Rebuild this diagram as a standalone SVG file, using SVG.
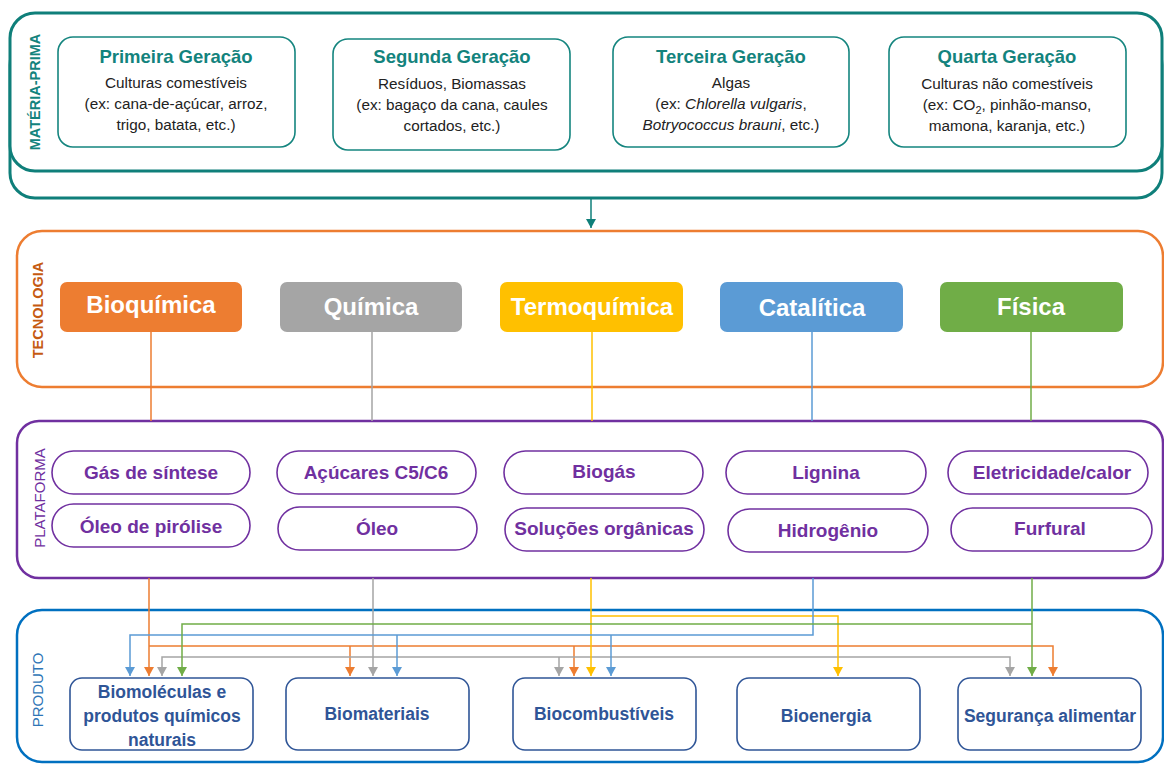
<svg xmlns="http://www.w3.org/2000/svg" width="1164" height="764" viewBox="0 0 1164 764">
<style>
text{font-family:"Liberation Sans",Arial,sans-serif;text-anchor:middle}
.gen{fill:#fff;stroke:#15857f;stroke-width:1.6}
.gt{fill:#13837d;font-weight:bold;font-size:18.5px}
.gb{fill:#222;font-size:15.3px}
.tb{font-weight:bold;font-size:24px;fill:#fff}
.pill{fill:#fff;stroke:#7030A0;stroke-width:1.6}
.pt{fill:#7030A0;font-weight:bold;font-size:19px}
.prod{fill:#fff;stroke:#2F5597;stroke-width:1.6}
.prt{fill:#2F5597;font-weight:bold;font-size:17.5px}
.c{fill:none;stroke-width:1.5}
.vl{font-size:14.5px}
</style>
<defs>
<marker id="aO" markerWidth="10" markerHeight="10" refX="5" refY="9" markerUnits="userSpaceOnUse" viewBox="0 0 10 10"><path d="M0,0 L10,0 L5,9 Z" fill="#ED7D31"/></marker>
<marker id="aG" markerWidth="10" markerHeight="10" refX="5" refY="9" markerUnits="userSpaceOnUse" viewBox="0 0 10 10"><path d="M0,0 L10,0 L5,9 Z" fill="#A5A5A5"/></marker>
<marker id="aY" markerWidth="10" markerHeight="10" refX="5" refY="9" markerUnits="userSpaceOnUse" viewBox="0 0 10 10"><path d="M0,0 L10,0 L5,9 Z" fill="#FFC000"/></marker>
<marker id="aB" markerWidth="10" markerHeight="10" refX="5" refY="9" markerUnits="userSpaceOnUse" viewBox="0 0 10 10"><path d="M0,0 L10,0 L5,9 Z" fill="#5B9BD5"/></marker>
<marker id="aN" markerWidth="10" markerHeight="10" refX="5" refY="9" markerUnits="userSpaceOnUse" viewBox="0 0 10 10"><path d="M0,0 L10,0 L5,9 Z" fill="#70AD47"/></marker>
<marker id="aT" markerWidth="10" markerHeight="10" refX="5" refY="9" markerUnits="userSpaceOnUse" viewBox="0 0 10 10"><path d="M0,0 L10,0 L5,9 Z" fill="#0f7f7a"/></marker>
</defs>
<rect width="1164" height="764" fill="#fff"/>

<g id="materia-prima">
<rect x="10" y="40" width="1152" height="158" rx="25" fill="#fff" stroke="#0f7f7a" stroke-width="3"/>
<rect x="10" y="13" width="1152" height="158" rx="25" fill="#fff" stroke="#0f7f7a" stroke-width="3"/>
<text class="vl" transform="translate(40,92) rotate(-90)" fill="#13837d" font-weight="bold">MATÉRIA-PRIMA</text>
</g>
<g id="tecnologia">
<rect x="17" y="231" width="1146" height="156" rx="25" fill="#fff" stroke="#ED7D31" stroke-width="2.5"/>
<text class="vl" transform="translate(43,310) rotate(-90)" fill="#C55A11" font-weight="bold" font-size="15">TECNOLOGIA</text>
</g>
<g id="plataforma">
<rect x="17" y="421" width="1146" height="157" rx="22" fill="#fff" stroke="#7030A0" stroke-width="2.5"/>
<text transform="translate(45,498) rotate(-90)" fill="#7030A0" font-size="15">PLATAFORMA</text>
</g>
<g id="produto">
<rect x="17" y="610" width="1146" height="152" rx="25" fill="#fff" stroke="#0070C0" stroke-width="2.5"/>
<text transform="translate(43,690) rotate(-90)" fill="#2E75B6" font-size="15">PRODUTO</text>
</g>

<g id="gen1">
<rect class="gen" x="58" y="37" width="237" height="110" rx="15"/>
<text class="gt" x="176" y="63">Primeira Geração</text>
<text class="gb" x="176" y="88">Culturas comestíveis</text>
<text class="gb" x="176" y="109">(ex: cana-de-açúcar, arroz,</text>
<text class="gb" x="176" y="130">trigo, batata, etc.)</text>
</g>
<g id="gen2">
<rect class="gen" x="333" y="39" width="237" height="111" rx="15"/>
<text class="gt" x="452" y="63">Segunda Geração</text>
<text class="gb" x="452" y="89">Resíduos, Biomassas</text>
<text class="gb" x="452" y="110">(ex: bagaço da cana, caules</text>
<text class="gb" x="452" y="131">cortados, etc.)</text>
</g>
<g id="gen3">
<rect class="gen" x="613" y="37" width="236" height="110" rx="15"/>
<text class="gt" x="731" y="63">Terceira Geração</text>
<text class="gb" x="731" y="88">Algas</text>
<text class="gb" x="731" y="109">(ex: <tspan font-style="italic">Chlorella vulgaris</tspan>,</text>
<text class="gb" x="731" y="130"><tspan font-style="italic">Botryococcus brauni</tspan>, etc.)</text>
</g>
<g id="gen4">
<rect class="gen" x="889" y="37" width="237" height="110" rx="15"/>
<text class="gt" x="1007" y="63">Quarta Geração</text>
<text class="gb" x="1007" y="89">Culturas não comestíveis</text>
<text class="gb" x="1007" y="110">(ex: CO<tspan font-size="11" dy="4">2</tspan><tspan dy="-4">, pinhão-manso,</tspan></text>
<text class="gb" x="1007" y="131">mamona, karanja, etc.)</text>
</g>

<g id="connectors">
<line class="c" x1="591" y1="198" x2="591" y2="228" stroke="#0f7f7a" stroke-width="2" marker-end="url(#aT)"/>
<line class="c" x1="151" y1="332" x2="151" y2="421" stroke="#ED7D31"/>
<line class="c" x1="372" y1="332" x2="372" y2="421" stroke="#A5A5A5"/>
<line class="c" x1="592" y1="332" x2="592" y2="421" stroke="#FFC000"/>
<line class="c" x1="812" y1="332" x2="812" y2="421" stroke="#5B9BD5"/>
<line class="c" x1="1031" y1="332" x2="1031" y2="421" stroke="#70AD47"/>
<path class="c" d="M149,578 V676" stroke="#ED7D31" marker-end="url(#aO)"/>
<path class="c" d="M149,646 H1053 V676" stroke="#ED7D31" marker-end="url(#aO)"/>
<path class="c" d="M350,646 V676" stroke="#ED7D31" marker-end="url(#aO)"/>
<path class="c" d="M574,646 V676" stroke="#ED7D31" marker-end="url(#aO)"/>
<path class="c" d="M373,578 V676" stroke="#A5A5A5" marker-end="url(#aG)"/>
<path class="c" d="M1010,676 V657 H162 V676" stroke="#A5A5A5" marker-start="url(#aG)" marker-end="url(#aG)"/>
<path class="c" d="M559,657 V676" stroke="#A5A5A5" marker-end="url(#aG)"/>
<path class="c" d="M591,578 V676" stroke="#FFC000" marker-end="url(#aY)"/>
<path class="c" d="M591,616 H838 V676" stroke="#FFC000" marker-end="url(#aY)"/>
<path class="c" d="M813,578 V635 H130 V676" stroke="#5B9BD5" marker-end="url(#aB)"/>
<path class="c" d="M397,635 V676" stroke="#5B9BD5" marker-end="url(#aB)"/>
<path class="c" d="M611,635 V676" stroke="#5B9BD5" marker-end="url(#aB)"/>
<path class="c" d="M1032,578 V676" stroke="#70AD47" marker-end="url(#aN)"/>
<path class="c" d="M1032,624 H182 V676" stroke="#70AD47" marker-end="url(#aN)"/>
</g>

<g id="bioquimica"><rect x="60" y="282" width="182" height="50" rx="7" fill="#ED7D31"/><text class="tb" x="151" y="313">Bioquímica</text></g>
<g id="quimica"><rect x="280" y="282" width="182" height="50" rx="7" fill="#A5A5A5"/><text class="tb" x="371" y="315">Química</text></g>
<g id="termoquimica"><rect x="500" y="282" width="183" height="50" rx="7" fill="#FFC000"/><text class="tb" x="592" y="315">Termoquímica</text></g>
<g id="catalitica"><rect x="720" y="282" width="183" height="50" rx="7" fill="#5B9BD5"/><text class="tb" x="812" y="316">Catalítica</text></g>
<g id="fisica"><rect x="940" y="282" width="183" height="50" rx="7" fill="#70AD47"/><text class="tb" x="1031" y="315">Física</text></g>

<g id="gas-sintese"><rect class="pill" x="52" y="451" width="198" height="43" rx="21.5"/><text class="pt" x="151" y="479">Gás de síntese</text></g>
<g id="oleo-pirolise"><rect class="pill" x="52" y="504" width="198" height="43" rx="21.5"/><text class="pt" x="151" y="533">Óleo de pirólise</text></g>
<g id="acucares"><rect class="pill" x="277" y="451" width="199" height="43" rx="21.5"/><text class="pt" x="376" y="479">Açúcares C5/C6</text></g>
<g id="oleo"><rect class="pill" x="278" y="507" width="199" height="43" rx="21.5"/><text class="pt" x="377" y="535">Óleo</text></g>
<g id="biogas"><rect class="pill" x="504" y="451" width="199" height="43" rx="21.5"/><text class="pt" x="604" y="478">Biogás</text></g>
<g id="solucoes"><rect class="pill" x="505" y="508" width="199" height="43" rx="21.5"/><text class="pt" x="604" y="535">Soluções orgânicas</text></g>
<g id="lignina"><rect class="pill" x="726" y="451" width="200" height="43" rx="21.5"/><text class="pt" x="826" y="479">Lignina</text></g>
<g id="hidrogenio"><rect class="pill" x="728" y="509" width="200" height="43" rx="21.5"/><text class="pt" x="828" y="537">Hidrogênio</text></g>
<g id="eletricidade"><rect class="pill" x="948" y="451" width="200" height="43" rx="21.5"/><text class="pt" x="1052" y="479">Eletricidade/calor</text></g>
<g id="furfural"><rect class="pill" x="951" y="508" width="201" height="43" rx="21.5"/><text class="pt" x="1050" y="535">Furfural</text></g>

<g id="biomoleculas"><rect class="prod" x="70" y="678" width="183" height="72" rx="12"/>
<text class="prt" x="162" y="698">Biomoléculas e</text><text class="prt" x="162" y="722">produtos químicos</text><text class="prt" x="162" y="746">naturais</text></g>
<g id="biomateriais"><rect class="prod" x="286" y="678" width="183" height="72" rx="12"/><text class="prt" x="377" y="720">Biomateriais</text></g>
<g id="biocombustiveis"><rect class="prod" x="513" y="678" width="183" height="72" rx="12"/><text class="prt" x="604" y="720">Biocombustíveis</text></g>
<g id="bioenergia"><rect class="prod" x="737" y="678" width="183" height="72" rx="12"/><text class="prt" x="826" y="722">Bioenergia</text></g>
<g id="seguranca"><rect class="prod" x="958" y="678" width="183" height="72" rx="12"/><text class="prt" x="1050" y="722">Segurança alimentar</text></g>
</svg>
